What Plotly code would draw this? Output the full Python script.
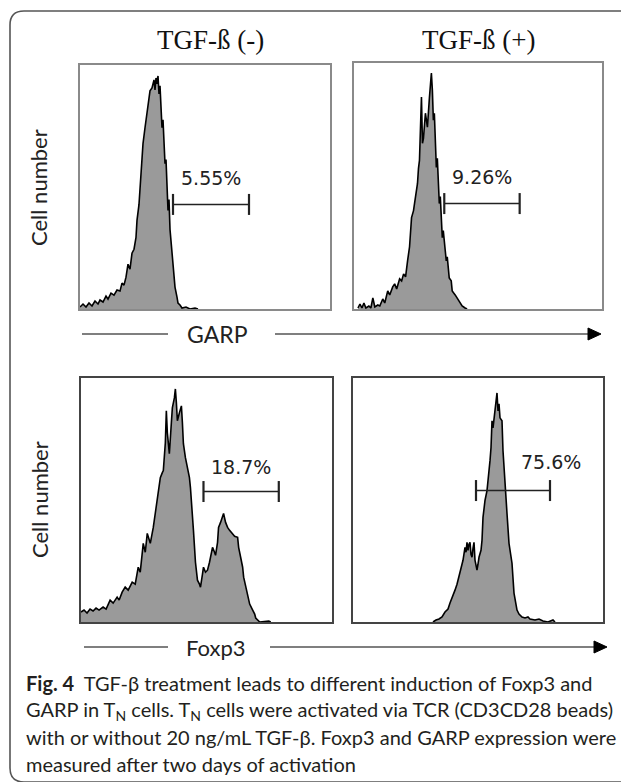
import plotly.graph_objects as go

W, H = 629, 782
OFF = 8  # page body margin of the browser
FW, FH = W - OFF, H - OFF

# ---------------- data (channel offset, cell count) ----------------
garp_neg_x = [0, 3, 6, 9, 12, 15, 18, 20, 23, 26, 28, 31, 34, 37, 40, 42, 44, 46, 48, 50,
              52, 54, 56, 57, 59, 60, 62, 63, 65, 67, 68, 70, 72, 73, 74, 75, 76, 77, 78, 79,
              80, 82, 83, 85, 86, 88, 89, 90, 92, 94, 95, 97, 98, 100, 102, 106, 110, 115, 118]
garp_neg_y = [2, 5, 2, 6, 3, 8, 5, 9, 7, 13, 10, 16, 14, 19, 18, 26, 24, 32, 45, 40,
              56, 60, 72, 89, 105, 122, 150, 166, 182, 196, 205, 219, 222, 226, 230, 220, 232, 226, 234, 216,
              224, 182, 190, 146, 150, 99, 110, 80, 56, 36, 22, 12, 6, 4, 1, 2, 0, 1, 0]

garp_pos_x = [4, 6, 8, 10, 12, 15, 17, 19, 21, 24, 26, 29, 31, 34, 36, 39, 41, 43, 46, 48,
              50, 52, 54, 56, 58, 60, 61, 63, 64, 65, 66, 67, 68, 69, 70, 72, 73, 74, 76, 77,
              78, 79, 80, 81, 83, 84, 86, 87, 89, 90, 93, 94, 96, 98, 99, 102, 104, 106, 109, 112, 114]
garp_pos_y = [1, 5, 1, 6, 1, 3, 1, 11, 2, 4, 3, 10, 6, 18, 14, 22, 25, 20, 30, 28,
              35, 32, 48, 62, 91, 98, 105, 118, 125, 140, 148, 180, 211, 165, 170, 195, 185, 181, 210, 225,
              235, 218, 188, 195, 141, 150, 105, 112, 71, 78, 48, 52, 31, 28, 18, 14, 11, 7, 3, 1, 0]

foxp3_neg_x = [0, 3, 6, 9, 12, 15, 18, 22, 25, 29, 32, 36, 38, 41, 44, 47, 51, 54, 57, 59,
               62, 64, 66, 68, 69, 72, 74, 76, 78, 79, 81, 82, 84, 85, 86, 88, 90, 91, 93, 94,
               95, 96, 98, 100, 101, 102, 104, 106, 108, 109, 111, 112, 114, 116, 118, 119, 121, 122, 124, 126,
               128, 131, 133, 134, 136, 137, 139, 141, 142, 144, 146, 148, 151, 153, 156, 157, 159, 161, 162, 164,
               166, 168, 171, 173, 174, 176, 178, 187, 189]
foxp3_neg_y = [10, 12, 9, 13, 11, 14, 12, 15, 13, 22, 19, 25, 22, 30, 35, 32, 40, 38, 55, 50,
               79, 70, 89, 82, 79, 95, 110, 125, 140, 145, 150, 152, 180, 212, 190, 169, 200, 215, 225, 234,
               220, 202, 210, 217, 200, 179, 165, 155, 145, 135, 110, 92, 60, 42, 38, 35, 48, 55, 50, 52,
               60, 75, 70, 67, 80, 95, 100, 105, 109, 100, 95, 92, 89, 86, 85, 75, 65, 55, 45, 35,
               25, 18, 12, 8, 4, 2, 0, 1, 0]

foxp3_pos_x = [80, 83, 86, 89, 92, 95, 97, 100, 102, 104, 105, 107, 109, 110, 112, 113, 114, 115, 116, 117,
               118, 119, 120, 121, 122, 124, 125, 126, 128, 129, 130, 132, 134, 135, 137, 138, 139, 140, 142, 143,
               144, 145, 146, 147, 149, 150, 152, 154, 156, 159, 161, 164, 166, 169, 172, 175, 177, 182, 186, 190,
               195, 200, 202]
foxp3_pos_y = [0, 2, 3, 5, 10, 13, 19, 26, 32, 38, 42, 50, 55, 62, 75, 70, 80, 72, 78, 80,
               68, 65, 74, 80, 62, 52, 58, 65, 72, 82, 105, 122, 132, 140, 162, 175, 202, 195, 215, 222,
               230, 212, 219, 205, 202, 172, 145, 109, 79, 59, 29, 12, 8, 5, 4, 5, 3, 2, 3, 1,
               0, 2, 0]

gate_lo = [93, 91, 122, 123]
gate_hi = [169, 167, 197, 197]
gate_level = [105, 105, 131, 132]
gate_labels = ["5.55%", "9.26%", "18.7%", "75.6%"]

col_titles = ["TGF-ß (-)", "TGF-ß (+)"]
row_markers = ["GARP", "Foxp3"]
y_label = "Cell number"

caption_lines = [
    "<b>Fig. 4</b>\u00a0\u00a0TGF-β treatment leads to different induction of Foxp3 and",
    "GARP in T<sub>N</sub> cells. T<sub>N</sub> cells were activated via TCR (CD3CD28 beads)",
    "with or without 20 ng/mL TGF-β. Foxp3 and GARP expression were",
    "measured after two days of activation",
]

series = [(garp_neg_x, garp_neg_y), (garp_pos_x, garp_pos_y),
          (foxp3_neg_x, foxp3_neg_y), (foxp3_pos_x, foxp3_pos_y)]

# ---------------- layout helpers (page pixel -> paper) ----------------
def px(x):
    return (x - OFF) / FW

def py(y):
    return 1 - (y - OFF) / FH

# panel boxes in pixels: (left, top, right, bottom)
boxes = [(80, 65, 330, 309), (354, 63, 602, 309), (81, 378, 332, 622), (353, 378, 603, 622)]
box_colors = ["#8a8a8a", "#8a8a8a", "#444444", "#444444"]
label_dx = [0, 0, 0, 38]
label_dy = [26, 27, 25, 29]

fig = go.Figure()
layout = dict(
    width=FW, height=FH, margin=dict(l=0, r=0, t=0, b=0),
    paper_bgcolor="white", plot_bgcolor="white", showlegend=False,
)

for i, ((xs, ys), (l, t, r, b)) in enumerate(zip(series, boxes)):
    n = "" if i == 0 else str(i + 1)
    xa, ya = "x" + n, "y" + n
    layout["xaxis" + n] = dict(domain=[px(l), px(r)], range=[0, 250], showgrid=False,
                               zeroline=False, showticklabels=False, ticks="",
                               showline=True, mirror=True, linecolor=box_colors[i],
                               linewidth=1.5, anchor=ya, fixedrange=True)
    layout["yaxis" + n] = dict(domain=[py(b), py(t)], range=[0, 245], showgrid=False,
                               zeroline=False, showticklabels=False, ticks="",
                               showline=True, mirror=True, linecolor=box_colors[i],
                               linewidth=1.5, anchor=xa, fixedrange=True)
    fig.add_trace(go.Scatter(x=xs, y=ys, xaxis=xa, yaxis=ya, mode="lines",
                             fill="tozeroy", fillcolor="#9a9a9a",
                             line=dict(color="black", width=1.6), hoverinfo="skip"))
    fig.add_trace(go.Scatter(x=[gate_lo[i], gate_hi[i]], y=[gate_level[i], gate_level[i]],
                             xaxis=xa, yaxis=ya, mode="lines+markers",
                             line=dict(color="#222222", width=1.6),
                             marker=dict(symbol="line-ns-open", size=15,
                                         line=dict(color="#222222", width=2.2)),
                             hoverinfo="skip"))

fig.update_layout(**layout)

ann = []
for i in range(4):
    n = "" if i == 0 else str(i + 1)
    ann.append(dict(x=(gate_lo[i] + gate_hi[i]) / 2, y=gate_level[i], xref="x" + n, yref="y" + n,
                    text=gate_labels[i], showarrow=False, xshift=label_dx[i], yshift=label_dy[i],
                    xanchor="center", yanchor="middle",
                    font=dict(family="DejaVu Sans", size=19, color="#222222")))

title_x = [210, 478]
for tx, tt in zip(title_x, col_titles):
    ann.append(dict(x=px(tx), y=py(40), xref="paper", yref="paper", text=tt, showarrow=False,
                    xanchor="center", yanchor="middle",
                    font=dict(family="Liberation Serif", size=27, color="#111111")))

for yy in [188, 500]:
    ann.append(dict(x=px(39), y=py(yy), xref="paper", yref="paper", text=y_label,
                    textangle=-90, showarrow=False, xanchor="center", yanchor="middle",
                    font=dict(family="Lato", size=22, color="#222222")))

marker_x = [217, 216]
marker_y = [334, 647]
marker_size = [23, 22]
for mx, my, ms, mt in zip(marker_x, marker_y, marker_size, row_markers):
    ann.append(dict(x=px(mx), y=py(my), xref="paper", yref="paper", text=mt, showarrow=False,
                    xanchor="center", yanchor="middle",
                    font=dict(family="Lato", size=ms, color="#222222")))

for k, line in enumerate(caption_lines):
    ann.append(dict(x=px(24), y=py(683 + 27 * k), xref="paper", yref="paper", text=line,
                    showarrow=False, xanchor="left", yanchor="middle", align="left",
                    font=dict(family="Lato", size=20, color="#231f20")))

fig.update_layout(annotations=ann)

shapes = []
# outer rounded frame
x0, y0, x1, y1, rr = 10, 11, 660, 782, 14
path = (f"M {px(x1)},{py(y0)} L {px(x0 + rr)},{py(y0)} "
        f"Q {px(x0)},{py(y0)} {px(x0)},{py(y0 + rr)} "
        f"L {px(x0)},{py(y1 - rr)} Q {px(x0)},{py(y1)} {px(x0 + rr)},{py(y1)} L {px(x1)},{py(y1)}")
shapes.append(dict(type="path", path=path, xref="paper", yref="paper",
                   line=dict(color="#555555", width=1.6)))

arrows = [(334, 82, 168, 275, 601), (647, 84, 168, 270, 607)]
for (ay, la, lb, ra, tip) in arrows:
    shapes.append(dict(type="line", xref="paper", yref="paper", x0=px(la), x1=px(lb),
                       y0=py(ay), y1=py(ay), line=dict(color="#555555", width=1.5)))
    shapes.append(dict(type="line", xref="paper", yref="paper", x0=px(ra), x1=px(tip - 10),
                       y0=py(ay), y1=py(ay), line=dict(color="#555555", width=1.5)))
    tri = (f"M {px(tip - 13)},{py(ay - 6)} L {px(tip)},{py(ay)} "
           f"L {px(tip - 13)},{py(ay + 6)} Z")
    shapes.append(dict(type="path", path=tri, xref="paper", yref="paper",
                       fillcolor="black", line=dict(color="black", width=1)))

fig.update_layout(shapes=shapes)

fig.write_html("out.html")
